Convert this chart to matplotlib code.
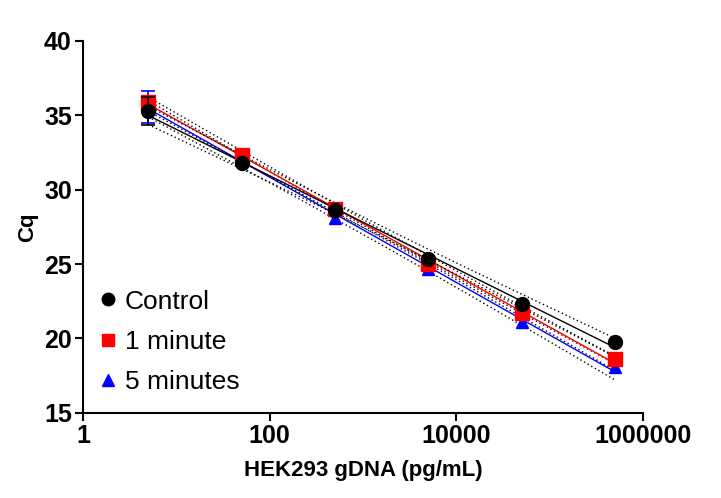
import numpy as np
import matplotlib.pyplot as plt
from matplotlib.lines import Line2D

plt.rcParams['font.family'] = ['Liberation Sans', 'DejaVu Sans']

# HEK293 gDNA concentrations (pg/mL)
conc = [5, 50, 500, 5000, 50000, 500000]

control = [35.3, 31.76, 28.63, 25.37, 22.3, 19.78]
one_min = [35.87, 32.36, 28.67, 24.99, 21.7, 18.62]
five_min = [35.55, 32.1, 28.1, 24.65, 21.1, 18.08]

# SD bars (only the lowest concentration shows bars wider than the markers)
control_err = [0.95, 0, 0, 0, 0, 0]
one_min_err = [0, 0, 0, 0, 0, 0]
five_min_err = [1.05, 0, 0, 0, 0, 0]

groups = [
    ('Control', control, control_err, 'black', 'o', 10, 3),
    ('1 minute', one_min, one_min_err, 'red', 's', 9.5, 2),
    ('5 minutes', five_min, five_min_err, 'blue', '^', 9, 1),
]

fig, ax = plt.subplots(figsize=(7.21, 4.98), dpi=100)
fig.subplots_adjust(left=0.115, right=0.892, bottom=0.171, top=0.918)

logx = np.log10(conc)
xs = np.linspace(logx[0], logx[-1], 100)
t_val = 2.776  # t(0.975, df=4)

for name, y, err, color, marker, ms, z in groups:
    y = np.array(y)
    err = np.array(err)
    slope, icpt = np.polyfit(logx, y, 1)
    fit = slope * xs + icpt
    resid = y - (slope * logx + icpt)
    s = np.sqrt(np.sum(resid ** 2) / (len(y) - 2))
    sxx = np.sum((logx - logx.mean()) ** 2)
    band = t_val * s * np.sqrt(1 / len(y) + (xs - logx.mean()) ** 2 / sxx)
    ax.plot(10 ** xs, fit, color=color, lw=1, zorder=z)
    ax.plot(10 ** xs, fit + band, color='black', lw=1, ls=(0, (1, 2)), zorder=z)
    ax.plot(10 ** xs, fit - band, color='black', lw=1, ls=(0, (1, 2)), zorder=z)
    ax.plot(conc, y, ls='none', marker=marker, color=color, ms=ms, zorder=z + 5)
    keep = err > 0
    if keep.any():
        ax.errorbar(np.array(conc)[keep], y[keep], yerr=err[keep], fmt='none',
                    ecolor=color, capsize=5, elinewidth=1.2, capthick=1.2,
                    zorder=z + 5)

ax.set_xscale('log')
ax.set_xlim(1, 1000000)
ax.set_ylim(15, 40)
ax.set_xticks([1, 100, 10000, 1000000])
ax.set_xticklabels(['1', '100', '10000', '1000000'])
ax.xaxis.set_minor_locator(plt.NullLocator())
ax.set_yticks([15, 20, 25, 30, 35, 40])

for side in ['top', 'right']:
    ax.spines[side].set_visible(False)
for side in ['left', 'bottom']:
    ax.spines[side].set_linewidth(1.5)
ax.tick_params(width=1.5, length=6, labelsize=18, pad=2)
for lab in ax.get_xticklabels() + ax.get_yticklabels():
    lab.set_fontweight('bold')

ax.set_xlabel('HEK293 gDNA (pg/mL)', fontsize=16, fontweight='bold', labelpad=9)
ax.set_ylabel('Cq', fontsize=16, fontweight='bold', labelpad=4)

handles = [Line2D([], [], ls='none', marker=m, color=c, ms=ms * 0.9)
           for _, _, _, c, m, ms, _ in groups]
ax.legend(handles, [g[0] for g in groups], loc='lower left', frameon=False,
          fontsize=19, handletextpad=0.15, handlelength=1.0, labelspacing=0.62,
          borderaxespad=0.3, bbox_to_anchor=(-0.012, 0.0))

fig.savefig('out.png', dpi=100)
